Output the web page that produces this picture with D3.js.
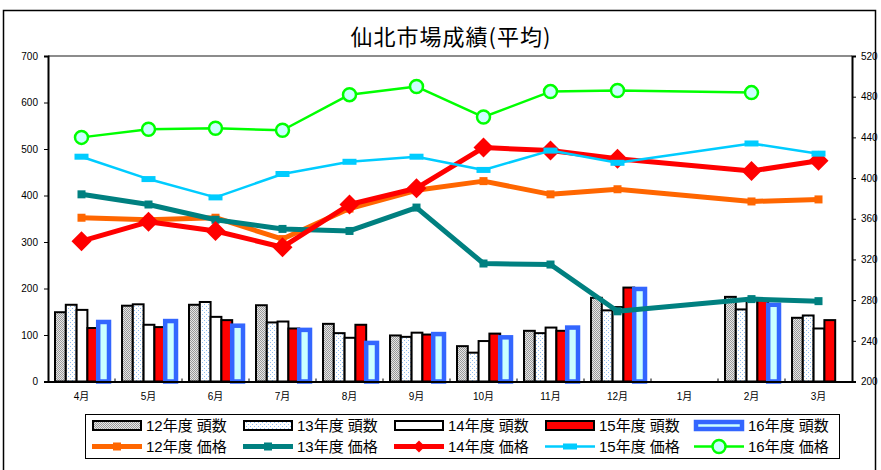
<!DOCTYPE html>
<html>
<head>
<meta charset="utf-8">
<script src="https://cdn.jsdelivr.net/npm/d3@7"></script>
<style>
  body { margin: 0; background: #fff; }
  .tick text { font-family: "Liberation Sans Narrow", "Liberation Sans", Arial, sans-serif; font-size: 10px; }
  .xlab { font-family: "Liberation Sans", "Noto Sans CJK JP", sans-serif; font-size: 10px; }
  .leg { font-family: "Liberation Sans", "Noto Sans CJK JP", sans-serif; font-size: 15px; }
</style>
</head>
<body>
<div id="chart"></div>
<script>
// months of the fiscal year
const months = ["4月", "5月", "6月", "7月", "8月", "9月", "10月", "11月", "12月", "1月", "2月", "3月"];

// head counts (left axis)
const heads12 = [149, 163, 165, 164, 124, 99, 76, 109, 180, null, 182, 137];
const heads13 = [165, 166, 171, 127, 104, 96, 62, 104, 153, null, 155, 142];
const heads14 = [154, 122, 139, 129, 94, 105, 87, 116, 160, null, 178, 114];
const heads15 = [115, 117, 132, 114, 122, 101, 103, 109, 202, null, 176, 132];
const heads16 = [128, 130, 120, 111, 83, 102, 95, 116, 199, null, 165, null];

// prices (right axis)
const price12 = [361, 359, 361, 340, 370, 388, 397, 384, 389, null, 377, 379];
const price13 = [384, 374, 359, 350, 348, 371, 316, 315, 269, null, 281, 279];
const price14 = [338, 357, 348, 332, 374, 390, 430, 427, 419, null, 407, 417];
const price15 = [421, 399, 381, 404, 416, 421, 408, 427, 415, null, 434, 424];
const price16 = [440, 448, 449, 447, 482, 490, 460, 485, 486, null, 484, null];

const leftTicks = [0, 100, 200, 300, 400, 500, 600, 700];
const rightTicks = [200, 240, 280, 320, 360, 400, 440, 480, 520];

var W = 881, H = 470;
var plot = { left: 48, right: 852, top: 56, bottom: 381.5 };

var svg = d3.select("#chart").append("svg")
    .attr("width", W)
    .attr("height", H);

var defs = svg.append("defs");

// gray dotted fill for 12年度
var p12 = defs.append("pattern").attr("id", "p12")
    .attr("width", 2).attr("height", 2).attr("patternUnits", "userSpaceOnUse");
p12.append("rect").attr("width", 2).attr("height", 2).attr("fill", "#e6e6e6");
p12.append("rect").attr("x", 0).attr("y", 0).attr("width", 1).attr("height", 1).attr("fill", "#9a9a9a");
p12.append("rect").attr("x", 1).attr("y", 1).attr("width", 1).attr("height", 1).attr("fill", "#9a9a9a");

// light blue dots for 13年度
var p13 = defs.append("pattern").attr("id", "p13")
    .attr("width", 4).attr("height", 4).attr("patternUnits", "userSpaceOnUse");
p13.append("rect").attr("width", 4).attr("height", 4).attr("fill", "#ffffff");
p13.append("rect").attr("x", 0).attr("y", 0).attr("width", 1).attr("height", 1).attr("fill", "#8fbdf0");
p13.append("rect").attr("x", 2).attr("y", 2).attr("width", 1).attr("height", 1).attr("fill", "#8fbdf0");

// outer frame
svg.append("rect")
    .attr("x", 3.5).attr("y", 10.5)
    .attr("width", 872).attr("height", 480)
    .attr("fill", "none").attr("stroke", "#000").attr("stroke-width", 1.5);

// title
svg.append("text")
    .attr("x", 451).attr("y", 45)
    .attr("text-anchor", "middle")
    .style("font-family", "'Noto Sans CJK JP', sans-serif")
    .style("font-size", "22px")
    .style("letter-spacing", "1px")
    .text("仙北市場成績(平均)");

// scales
var x0 = d3.scaleBand().domain(months).range([plot.left, plot.right]);
var barKeys = ["12", "13", "14", "15", "16"];
var x1 = d3.scaleBand().domain(barKeys).range([7, x0.bandwidth() - 6]);
var y = d3.scaleLinear().domain([0, 700]).range([plot.bottom, plot.top]);
var y2 = d3.scaleLinear().domain([200, 520]).range([plot.bottom, plot.top]);

// plot area top border
svg.append("line")
    .attr("x1", plot.left).attr("x2", plot.right)
    .attr("y1", plot.top).attr("y2", plot.top)
    .attr("stroke", "#8c8c8c").attr("stroke-width", 2);

// bars
var barSeries = [
    { key: "12", values: heads12, fill: "url(#p12)", stroke: "#000", sw: 2 },
    { key: "13", values: heads13, fill: "url(#p13)", stroke: "#000", sw: 2 },
    { key: "14", values: heads14, fill: "#ffffff", stroke: "#000", sw: 2 },
    { key: "15", values: heads15, fill: "#ff0000", stroke: "#000", sw: 2 },
    { key: "16", values: heads16, fill: "#ccffff", stroke: "#3366ff", sw: 4.5 }
];

barSeries.forEach(function (s) {
    var pts = s.values.map((v, i) => ({ m: months[i], v: v })).filter(d => d.v != null);
    svg.append("g").selectAll("rect")
        .data(pts)
        .enter().append("rect")
        .attr("x", d => x0(d.m) + x1(s.key))
        .attr("y", d => y(d.v))
        .attr("width", x1.bandwidth())
        .attr("height", d => y(0) - y(d.v))
        .attr("fill", s.fill)
        .attr("stroke", s.stroke)
        .attr("stroke-width", s.sw);
});

// axes
var gL = svg.append("g")
    .attr("transform", "translate(" + plot.left + ",0)")
    .call(d3.axisLeft(y).tickValues(leftTicks).tickSize(4).tickPadding(6));
var gR = svg.append("g")
    .attr("transform", "translate(" + plot.right + ",0)")
    .call(d3.axisRight(y2).tickValues(rightTicks).tickSize(4).tickPadding(5));
var gB = svg.append("g")
    .attr("transform", "translate(0," + plot.bottom + ")")
    .call(d3.axisTop(x0).tickValues([]).tickSizeOuter(0));

[gL, gR, gB].forEach(function (g) {
    g.select(".domain").attr("stroke", "#000").attr("stroke-width", 2);
    g.selectAll(".tick line").attr("stroke", "#000");
});

// band boundary ticks on x axis
svg.append("g").selectAll("line")
    .data(months.slice(1))
    .enter().append("line")
    .attr("x1", d => x0(d)).attr("x2", d => x0(d))
    .attr("y1", plot.bottom).attr("y2", plot.bottom - 3)
    .attr("stroke", "#000");

// month labels
svg.append("g").selectAll("text")
    .data(months)
    .enter().append("text")
    .attr("class", "xlab")
    .attr("x", d => x0(d) + x0.bandwidth() / 2)
    .attr("y", 400)
    .attr("text-anchor", "middle")
    .text(d => d);

// lines
var lineSeries = [
    { values: price12, color: "#ff6600", w: 5, marker: "square" },
    { values: price13, color: "#008080", w: 5, marker: "square" },
    { values: price14, color: "#ff0000", w: 5, marker: "diamond" },
    { values: price15, color: "#00ccff", w: 2.5, marker: "bar" },
    { values: price16, color: "#00ff00", w: 2.5, marker: "circle" }
];

function drawMarker(g, type, color) {
    if (type == "square") {
        g.append("rect").attr("x", -4).attr("y", -4).attr("width", 8).attr("height", 8).attr("fill", color);
    } else if (type == "diamond") {
        g.append("path").attr("d", "M0,-10L10,0L0,10L-10,0Z").attr("fill", color);
    } else if (type == "bar") {
        g.append("rect").attr("x", -7).attr("y", -3).attr("width", 14).attr("height", 6).attr("fill", color);
    } else if (type == "circle") {
        g.append("circle").attr("r", 6.5).attr("fill", "#ccffff").attr("stroke", color).attr("stroke-width", 2.5);
    }
}

var line = d3.line()
    .x(d => x0(d.m) + x0.bandwidth() / 2)
    .y(d => y2(d.v));

lineSeries.forEach(function (s) {
    var pts = s.values.map((v, i) => ({ m: months[i], v: v })).filter(d => d.v != null);
    svg.append("path")
        .datum(pts)
        .attr("d", line)
        .attr("fill", "none")
        .attr("stroke", s.color)
        .attr("stroke-width", s.w)
        .attr("stroke-linejoin", "round");
    pts.forEach(function (d) {
        var g = svg.append("g")
            .attr("transform", "translate(" + (x0(d.m) + x0.bandwidth() / 2) + "," + y2(d.v) + ")");
        drawMarker(g, s.marker, s.color);
    });
});

// legend
svg.append("rect")
    .attr("x", 85.5).attr("y", 414.5)
    .attr("width", 754).attr("height", 44)
    .attr("fill", "#fff").attr("stroke", "#000").attr("stroke-width", 1);

var legCols = [92, 243, 394, 545, 694];
var headNames = ["12年度 頭数", "13年度 頭数", "14年度 頭数", "15年度 頭数", "16年度 頭数"];
var priceNames = ["12年度 価格", "13年度 価格", "14年度 価格", "15年度 価格", "16年度 価格"];

barSeries.forEach(function (s, i) {
    var cx = legCols[i];
    var inset = s.sw > 3 ? 2 : 1;
    svg.append("rect")
        .attr("x", cx + inset).attr("y", 420 + inset)
        .attr("width", 50 - 2 * inset).attr("height", 11 - 2 * inset)
        .attr("fill", s.fill).attr("stroke", s.stroke).attr("stroke-width", s.sw);
    svg.append("text").attr("class", "leg")
        .attr("x", cx + 54).attr("y", 431)
        .text(headNames[i]);
});

lineSeries.forEach(function (s, i) {
    var cx = legCols[i];
    svg.append("line")
        .attr("x1", cx).attr("x2", cx + 50)
        .attr("y1", 446.5).attr("y2", 446.5)
        .attr("stroke", s.color).attr("stroke-width", s.w);
    var g = svg.append("g").attr("transform", "translate(" + (cx + 25) + ",446.5)");
    if (s.marker == "diamond") {
        g.append("path").attr("d", "M0,-6L6,0L0,6L-6,0Z").attr("fill", s.color);
    } else {
        drawMarker(g, s.marker, s.color);
    }
    svg.append("text").attr("class", "leg")
        .attr("x", cx + 54).attr("y", 452)
        .text(priceNames[i]);
});
</script>
</body>
</html>
